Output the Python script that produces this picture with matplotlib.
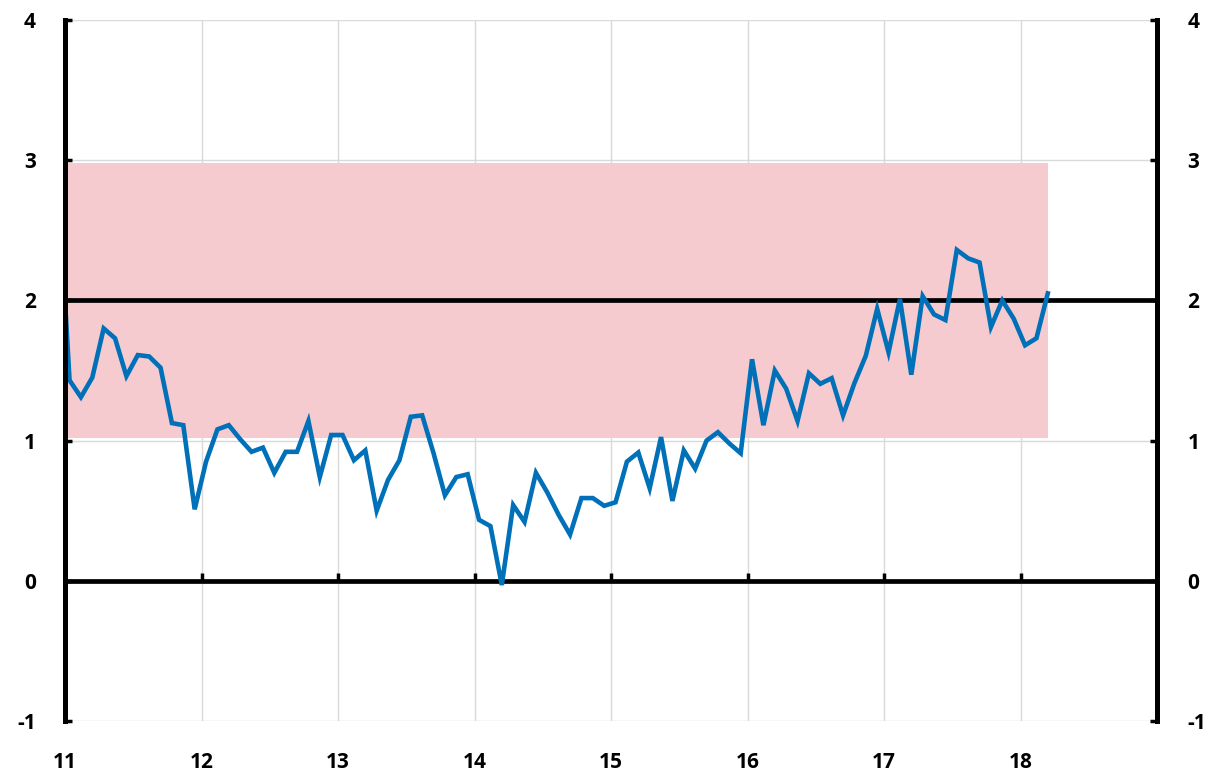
import numpy as np
import matplotlib
matplotlib.use("Agg")
import matplotlib.pyplot as plt

# Monthly series, Dec 2010 .. Mar 2018 (first value lies just left of the axis and is clipped)
month_index = list(range(-1, 87))
values = [2.86,
          1.43, 1.31, 1.45, 1.80, 1.73, 1.46, 1.61, 1.60, 1.52, 1.125, 1.11, 0.51,
          0.85, 1.08, 1.11, 1.01, 0.92, 0.95, 0.77, 0.92, 0.92, 1.14, 0.74, 1.04,
          1.04, 0.86, 0.93, 0.50, 0.72, 0.86, 1.17, 1.18, 0.91, 0.61, 0.74, 0.76,
          0.435, 0.39, -0.03, 0.54, 0.42, 0.77, 0.63, 0.47, 0.33, 0.59, 0.59, 0.535,
          0.56, 0.85, 0.915, 0.66, 1.025, 0.57, 0.93, 0.80, 1.00, 1.06, 0.98, 0.91,
          1.58, 1.11, 1.50, 1.37, 1.14, 1.48, 1.405, 1.445, 1.18, 1.41, 1.605, 1.94,
          1.63, 2.01, 1.47, 2.03, 1.90, 1.86, 2.36, 2.30, 2.27, 1.81, 2.00, 1.87,
          1.68, 1.73, 2.05]
start_year = 11
x_ticks = [11, 12, 13, 14, 15, 16, 17, 18]
x_labels = ["11", "12", "13", "14", "15", "16", "17", "18"]
y_ticks = [-1, 0, 1, 2, 3, 4]
y_labels = ["-1", "0", "1", "2", "3", "4"]
band_low, band_high = 1.02, 2.98
target = 2

x = start_year + (np.array(month_index) + 0.4) / 12.0
y = np.array(values)

BLUE = "#0070B8"
PINK = "#F5CBD0"
GRID = "#D9D9D9"

fig = plt.figure(figsize=(12.12, 7.71), dpi=100)
ax = fig.add_axes([65 / 1212, 1 - 721 / 771, (1157 - 65) / 1212, (721 - 20) / 771])

ax.set_xlim(11, 19)
ax.set_ylim(-1, 4)

# grid
for xv in range(12, 19):
    ax.axvline(xv, color=GRID, lw=1.0, zorder=0)
for yv in y_ticks:
    ax.axhline(yv, color=GRID, lw=1.0, zorder=0)

# band
ax.fill_between([start_year, x[-1]], band_low, band_high, color=PINK, lw=0, zorder=1)

# reference lines
ax.axhline(target, color="black", lw=3.4, zorder=2)
ax.axhline(0, color="black", lw=3.4, zorder=2)

# series
ax.plot(x, y, color=BLUE, lw=3.3, zorder=3, solid_joinstyle="miter")

# spines
for s in ["top", "bottom"]:
    ax.spines[s].set_visible(False)
ax.spines["left"].set_linewidth(3.6)
ax.spines["left"].set_zorder(5)

font = {"family": "Open Sans", "weight": "bold", "size": 15}

ax.set_yticks(y_ticks)
ax.set_yticklabels(y_labels, fontdict=font)
ax.tick_params(axis="y", direction="in", length=5, width=2.5, pad=21,
               left=True, right=False)

ax.set_xticks(x_ticks)
ax.set_xticklabels(x_labels, fontdict=font)
ax.tick_params(axis="x", length=0, pad=22)

# right axis
axr = ax.twinx()
axr.set_ylim(-1, 4)
axr.set_yticks(y_ticks)
axr.set_yticklabels(y_labels, fontdict=font)
axr.tick_params(axis="y", direction="in", length=5, width=2.5, pad=22)
for s in ["top", "bottom", "left"]:
    axr.spines[s].set_visible(False)
axr.spines["right"].set_linewidth(3.6)

# tick marks on the zero line
sec = ax.secondary_xaxis(0.2)
sec.set_xticks(x_ticks[1:])
sec.tick_params(axis="x", direction="in", length=6, width=2.5, labelbottom=False)
sec.spines["bottom"].set_visible(False)

fig.savefig("out.png", dpi=100)
